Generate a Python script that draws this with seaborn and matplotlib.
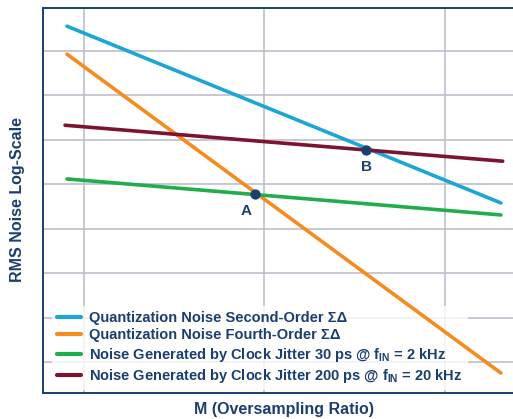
import matplotlib
matplotlib.use("Agg")
import matplotlib.pyplot as plt
import seaborn as sns
import pandas as pd

# ---- data (conceptual log-log chart, arbitrary units) ----
series_names = [
    "Quantization Noise Second-Order ΣΔ",
    "Quantization Noise Fourth-Order ΣΔ",
    "Noise Generated by Clock Jitter 30 ps @ f$_{\\mathrm{IN}}$ = 2 kHz",
    "Noise Generated by Clock Jitter 200 ps @ f$_{\\mathrm{IN}}$ = 20 kHz",
]
series_colors = ["#1ba6d6", "#f68b1f", "#20ad4b", "#7c1431"]
x_second = [0.906, 3.31]
y_second = [8.56, 4.58]
x_fourth = [0.906, 3.31]
y_fourth = [7.93, 0.75]
x_jit30 = [0.906, 3.31]
y_jit30 = [5.12, 4.31]
x_jit200 = [0.895, 3.32]
y_jit200 = [6.33, 5.52]
point_labels = ["A", "B"]
point_x = [1.947, 2.565]
point_y = [4.78, 5.77]

navy = "#1b3f6e"

rows = []
for name, xs, ys in zip(series_names,
                        [x_second, x_fourth, x_jit30, x_jit200],
                        [y_second, y_fourth, y_jit30, y_jit200]):
    for xv, yv in zip(xs, ys):
        rows.append({"series": name, "x": xv, "y": yv})
df = pd.DataFrame(rows)

sns.set_theme(style="white")
plt.rcParams["font.family"] = ["Liberation Sans", "DejaVu Sans"]
plt.rcParams["font.weight"] = "bold"
plt.rcParams["mathtext.fontset"] = "custom"
plt.rcParams["mathtext.rm"] = "Liberation Sans:bold"
plt.rcParams["mathtext.it"] = "Liberation Sans:bold"
plt.rcParams["mathtext.bf"] = "Liberation Sans:bold"

fig = plt.figure(figsize=(5.13, 4.19), dpi=100)
ax = fig.add_axes([43 / 513, 26 / 419, 470 / 513, 385 / 419])

sns.lineplot(data=df, x="x", y="y", hue="series", hue_order=series_names,
             palette=series_colors, linewidth=2.6, ax=ax, legend=True,
             zorder=3)

ax.scatter(point_x, point_y, s=55, color=navy, zorder=5, linewidths=0)
for lab, px, py in zip(point_labels, point_x, point_y):
    ax.annotate(lab, (px, py), xytext=(-6 if lab == "A" else 0, -12),
                textcoords="offset points", ha="center", va="center",
                fontsize=11, fontweight="bold", color=navy)

ax.set_xlim(0.773, 3.377)
ax.set_ylim(0.30, 8.97)
ax.set_xticks([1, 2, 3])
ax.set_yticks([1, 2, 3, 4, 5, 6, 7, 8])
ax.set_xticklabels([])
ax.set_yticklabels([])
ax.tick_params(length=0)
ax.set_axisbelow(True)
ax.grid(True, color="#b9b9ca", linewidth=1.1)

for side in ["left", "bottom", "top"]:
    ax.spines[side].set_color("#1a3f6c")
    ax.spines[side].set_linewidth(1.4)
ax.spines["right"].set_visible(False)

ax.set_xlabel("")
ax.set_ylabel("")
fig.text(284 / 513, 1 - 409 / 419, "M (Oversampling Ratio)", ha="center",
         va="center", fontsize=11.5, fontweight="bold", color=navy)
fig.text(18 / 513, 1 - 200 / 419, "RMS Noise Log-Scale", ha="center",
         va="center", rotation=90, fontsize=11.5, fontweight="bold", color=navy)

leg = ax.legend(loc="lower left", bbox_to_anchor=(52 / 513, 29 / 419),
                bbox_transform=fig.transFigure, frameon=True, fancybox=False,
                fontsize=10.5, handlelength=1.65, handletextpad=0.55,
                labelspacing=0.225, borderpad=0.35, borderaxespad=0)
leg.get_frame().set_facecolor("white")
leg.get_frame().set_edgecolor("none")
leg.set_zorder(2)
for t in leg.get_texts():
    t.set_color(navy)
    t.set_fontweight("bold")
for h in leg.get_lines():
    h.set_linewidth(3)

fig.savefig("out.png", dpi=100, facecolor="white")
